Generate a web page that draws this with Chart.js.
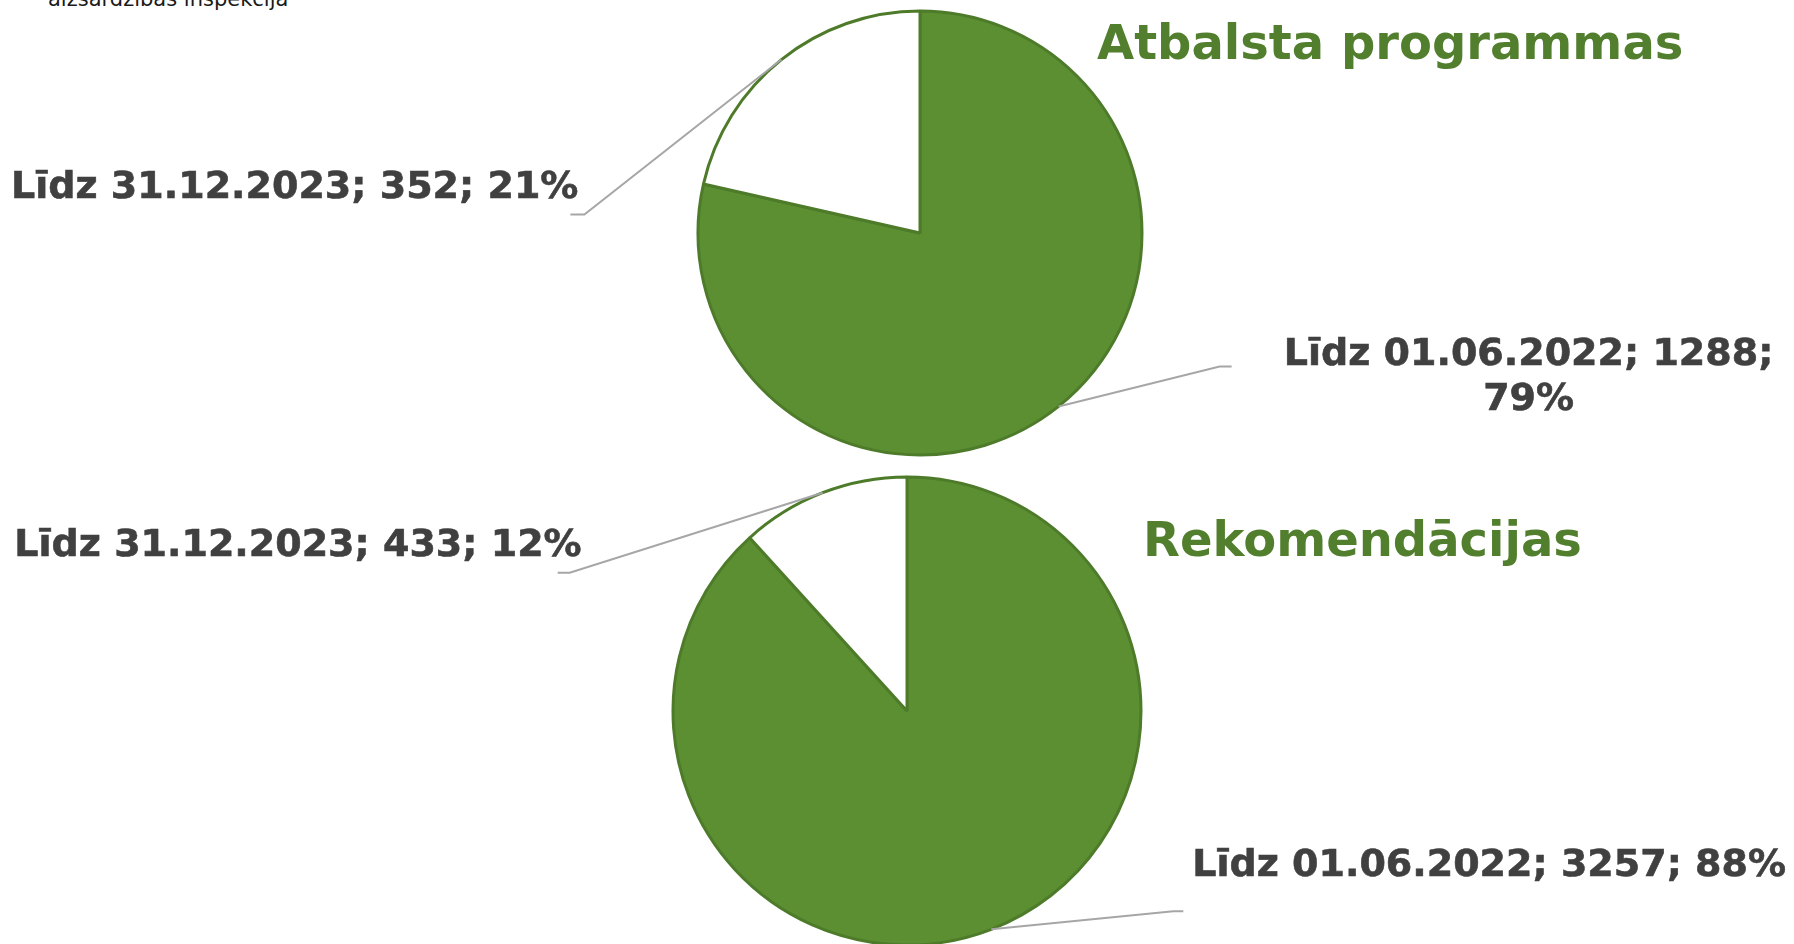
<!DOCTYPE html>
<html>
  <head>
    <meta charset="utf-8">
    <title>Atbalsta programmas un rekomendācijas</title>
    <script src="https://cdn.jsdelivr.net/npm/chart.js@4.4.1/dist/chart.umd.min.js"></script>
    <style>
      html, body { margin: 0; padding: 0; background: #fff; overflow: hidden; }
      body { width: 1794px; height: 944px; position: relative; }
      canvas { position: absolute; left: 0; top: 0; }
      .logo { position: absolute; left: 48px; top: -11px; font: 21px 'DejaVu Sans', sans-serif; color: #1a1a1a; line-height: 21px; }
      .title { position: absolute; font: bold 48px 'DejaVu Sans', sans-serif; color: #527f2e; white-space: nowrap; }
    </style>
  </head>

  <body>
    <div class="logo">aizsardzības inspekcija</div>
    <canvas id="pieTop" width="1794" height="944"></canvas>
    <canvas id="pieBottom" width="1794" height="944"></canvas>
    <div class="title" id="titleTop" style="left:1097px; top:14px;"></div>
    <div class="title" id="titleBottom" style="left:1143px; top:511px;"></div>
    <script>
      const categories = ['Līdz 01.06.2022', 'Līdz 31.12.2023'];
      const programmasValues = [1288, 352];
      const rekomendacijasValues = [3257, 433];
      const chartTitles = ['Atbalsta programmas', 'Rekomendācijas'];

      document.getElementById('titleTop').textContent = chartTitles[0];
      document.getElementById('titleBottom').textContent = chartTitles[1];

      // draws "label; value; pct%" with a leader line from the slice edge
      const leaderLabels = {
        id: 'leaderLabels',
        afterDatasetsDraw(chart, args, opts) {
          const ctx = chart.ctx;
          const values = chart.data.datasets[0].data;
          const total = values.reduce((a, b) => a + b, 0);
          chart.getDatasetMeta(0).data.forEach((arc, i) => {
            const p = opts.place[i];
            const a = arc.getProps(['x', 'y', 'startAngle', 'endAngle', 'outerRadius'], true);
            const mid = (a.startAngle + a.endAngle) / 2;
            const sx = a.x + Math.cos(mid) * a.outerRadius;
            const sy = a.y + Math.sin(mid) * a.outerRadius;
            const ex = sx + p.elbow[0];
            const ey = sy + p.elbow[1];

            ctx.save();
            ctx.strokeStyle = '#a6a6a6';
            ctx.lineWidth = 2;
            ctx.beginPath();
            ctx.moveTo(sx, sy);
            ctx.lineTo(ex, ey);
            ctx.lineTo(ex + p.tick, ey);
            ctx.stroke();

            ctx.font = 'bold 38px "DejaVu Sans", sans-serif';
            ctx.fillStyle = '#404040';
            ctx.strokeStyle = '#404040';
            ctx.lineWidth = 0.6;
            ctx.textAlign = p.align;
            ctx.textBaseline = 'alphabetic';
            const text = `${chart.data.labels[i]}; ${values[i]}; ${Math.round(values[i] / total * 100)}%`;
            let lines = [text];
            if (p.maxWidth && ctx.measureText(text).width > p.maxWidth) {
              lines = [];
              let cur = '';
              text.split(' ').forEach(w => {
                const test = cur ? cur + ' ' + w : w;
                if (cur && ctx.measureText(test).width > p.maxWidth) {
                  lines.push(cur);
                  cur = w;
                } else {
                  cur = test;
                }
              });
              lines.push(cur);
            }
            lines.forEach((ln, k) => {
              const tx = ex + p.text[0];
              const ty = ey + p.text[1] + k * 45;
              ctx.fillText(ln, tx, ty);
              ctx.strokeText(ln, tx, ty);
            });
            ctx.restore();
          });
        }
      };

      const pieStyle = {
        backgroundColor: ['#5b8f32', '#ffffff'],
        borderColor: '#4e7b2a',
        borderWidth: 3,
        hoverOffset: 0
      };

      new Chart(document.getElementById('pieTop'), {
        type: 'pie',
        data: {
          labels: categories,
          datasets: [{ data: programmasValues, ...pieStyle }]
        },
        options: {
          responsive: false,
          animation: false,
          events: [],
          radius: 222,
          layout: { padding: { left: 698, right: 652, top: 11, bottom: 489 } },
          plugins: {
            legend: { display: false },
            tooltip: { enabled: false },
            leaderLabels: {
              place: [
                { elbow: [161, -40], tick: 12, text: [309, -1], align: 'center', maxWidth: 550 },
                { elbow: [-197, 155], tick: -14, text: [-6, -17], align: 'right' }
              ]
            }
          }
        },
        plugins: [leaderLabels]
      });

      new Chart(document.getElementById('pieBottom'), {
        type: 'pie',
        data: {
          labels: categories,
          datasets: [{ data: rekomendacijasValues, ...pieStyle }]
        },
        options: {
          responsive: false,
          animation: false,
          events: [],
          radius: 234,
          layout: { padding: { left: 673, right: 653, top: 478, bottom: 0 } },
          plugins: {
            legend: { display: false },
            tooltip: { enabled: false },
            leaderLabels: {
              place: [
                { elbow: [182, -18], tick: 10, text: [19, -35], align: 'left' },
                { elbow: [-253, 80], tick: -12, text: [12, -17], align: 'right' }
              ]
            }
          }
        },
        plugins: [leaderLabels]
      });
    </script>
  </body>
</html>
